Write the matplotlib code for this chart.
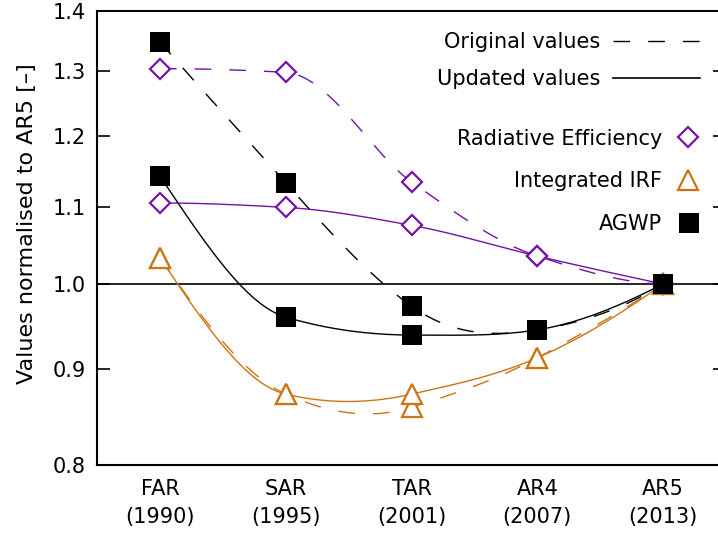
import numpy as np
import matplotlib
matplotlib.use("Agg")
import matplotlib.pyplot as plt
from matplotlib.lines import Line2D

# ---- data ----
reports = ["FAR", "SAR", "TAR", "AR4", "AR5"]
years = ["1990", "1995", "2001", "2007", "2013"]
yticks = [0.8, 0.9, 1.0, 1.1, 1.2, 1.3, 1.4]

re_orig = [1.304, 1.298, 1.134, 1.035, 1.0]
irf_orig = [1.033, 0.873, 0.859, 0.913, 1.0]
agwp_orig = [1.348, 1.133, 0.973, 0.945, 1.0]

re_upd = [1.105, 1.099, 1.075, 1.035, 1.0]
irf_upd = [1.033, 0.873, 0.873, 0.913, 1.0]
agwp_upd = [1.142, 0.960, 0.939, 0.945, 1.0]

PURPLE = "#7414A6"
ORANGE = "#CC7414"
FS = 15


def hermite(y, d, npts=400):
    n = len(y)
    xs = np.linspace(0, n - 1, npts)
    i = np.minimum(np.floor(xs).astype(int), n - 2)
    t = xs - i
    h00 = 2 * t**3 - 3 * t**2 + 1
    h10 = t**3 - 2 * t**2 + t
    h01 = -2 * t**3 + 3 * t**2
    h11 = t**3 - t**2
    return xs, h00 * y[i] + h10 * d[i] + h01 * y[i + 1] + h11 * d[i + 1]


def pchip(y):
    """Monotone piecewise cubic Hermite curve (Fritsch-Carlson)."""
    y = np.asarray(y, float)
    n = len(y)
    m = np.diff(y)
    d = np.zeros(n)
    for k in range(1, n - 1):
        if m[k - 1] * m[k] > 0:
            d[k] = 2.0 / (1.0 / m[k - 1] + 1.0 / m[k])
    for (e, m0, m1) in [(0, m[0], m[1]), (n - 1, -m[-1], -m[-2])]:
        de = (3 * m0 - m1) / 2.0
        if np.sign(de) != np.sign(m0):
            de = 0.0
        elif np.sign(m0) != np.sign(m1) and abs(de) > 3 * abs(m0):
            de = 3 * m0
        d[e] = de if e == 0 else -de
    return hermite(y, d)


def akima(y):
    """Akima piecewise cubic curve."""
    y = np.asarray(y, float)
    n = len(y)
    m = np.empty(n + 3)
    m[2:-2] = np.diff(y)
    m[1] = 2 * m[2] - m[3]
    m[0] = 2 * m[1] - m[2]
    m[-2] = 2 * m[-3] - m[-4]
    m[-1] = 2 * m[-2] - m[-3]
    dm = np.abs(np.diff(m))
    f1, f2 = dm[2:], dm[:-2]
    f12 = f1 + f2
    d = 0.5 * (m[3:] + m[:-3])
    ok = f12 > 1e-9 * f12.max()
    d[ok] = (f1[ok] * m[1:-2][ok] + f2[ok] * m[2:-1][ok]) / f12[ok]
    return hermite(y, d)


W, H = 718, 533
fig = plt.figure(figsize=(W / 100, H / 100), dpi=100)
L, R, T, B = 97, 726, 11, 465
ax = fig.add_axes([L / W, 1 - B / H, (R - L) / W, (B - T) / H])

x = np.arange(len(reports))
DASH = (0, (12, 13))

ax.axhline(1.0, color="black", lw=1.2, zorder=1)

for vals, col, ls, fn in [(re_orig, PURPLE, DASH, pchip), (irf_orig, ORANGE, DASH, akima),
                          (agwp_orig, "black", DASH, akima),
                          (re_upd, PURPLE, "-", pchip), (irf_upd, ORANGE, "-", akima),
                          (agwp_upd, "black", "-", akima)]:
    xs, ys = fn(vals)
    ax.plot(xs, ys, color=col, lw=1.0, ls=ls, zorder=2)

mk = dict(ls="none", zorder=4, clip_on=False)
for vals in (re_orig, re_upd):
    ax.plot(x, vals, marker="D", ms=10, mfc="white", mec=PURPLE, mew=1.6, **mk)
for vals in (irf_orig, irf_upd):
    ax.plot(x, vals, marker="^", ms=14, mfc="white", mec=ORANGE, mew=1.6, **mk)
for vals in (agwp_orig, agwp_upd):
    ax.plot(x, vals, marker="s", ms=14, mfc="black", mec="black", mew=0, **mk)

ax.set_yscale("log")
ax.set_ylim(yticks[0], yticks[-1])
ax.set_xlim(-0.5, len(reports) - 0.5)
ax.set_yticks(yticks)
ax.set_yticklabels([f"{v:.1f}" for v in yticks])
ax.yaxis.set_minor_locator(matplotlib.ticker.NullLocator())
ax.set_xticks(x)
ax.set_xticklabels([f"{r}\n({yv})" for r, yv in zip(reports, years)], linespacing=1.5)
ax.tick_params(axis="y", which="major", direction="in", length=9.5, width=1.2,
               left=True, right=True, labelsize=FS, pad=8)
ax.tick_params(axis="x", length=0, labelsize=FS, pad=10)
for sp in ax.spines.values():
    sp.set_linewidth(1.5)

fig.text(27 / W, 1 - 224 / H, "Values normalised to AR5 [–]", rotation=90,
         ha="center", va="center", fontsize=16)


def fx(px):
    return px / W


def fy(py):
    return 1 - py / H


# legend (drawn as figure text + keys)
fig.text(fx(600), fy(48), "Original values", ha="right", va="baseline", fontsize=FS)
fig.text(fx(600), fy(85), "Updated values", ha="right", va="baseline", fontsize=FS)
fig.add_artist(Line2D([fx(613), fx(700)], [fy(41), fy(41)], color="black", lw=1.0, ls=(0, (12, 13))))
fig.add_artist(Line2D([fx(613), fx(700)], [fy(78), fy(78)], color="black", lw=1.2))

fig.text(fx(662), fy(145), "Radiative Efficiency", ha="right", va="baseline", fontsize=FS)
fig.text(fx(662), fy(187), "Integrated IRF", ha="right", va="baseline", fontsize=FS)
fig.text(fx(662), fy(230), "AGWP", ha="right", va="baseline", fontsize=FS)
fig.add_artist(Line2D([fx(688)], [fy(137)], marker="D", ms=10, mfc="white", mec=PURPLE, mew=1.6, ls="none"))
fig.add_artist(Line2D([fx(688)], [fy(180)], marker="^", ms=14, mfc="white", mec=ORANGE, mew=1.6, ls="none"))
fig.add_artist(Line2D([fx(689)], [fy(223)], marker="s", ms=14, mfc="black", mec="black", mew=0, ls="none"))

fig.savefig("out.png", dpi=100)
